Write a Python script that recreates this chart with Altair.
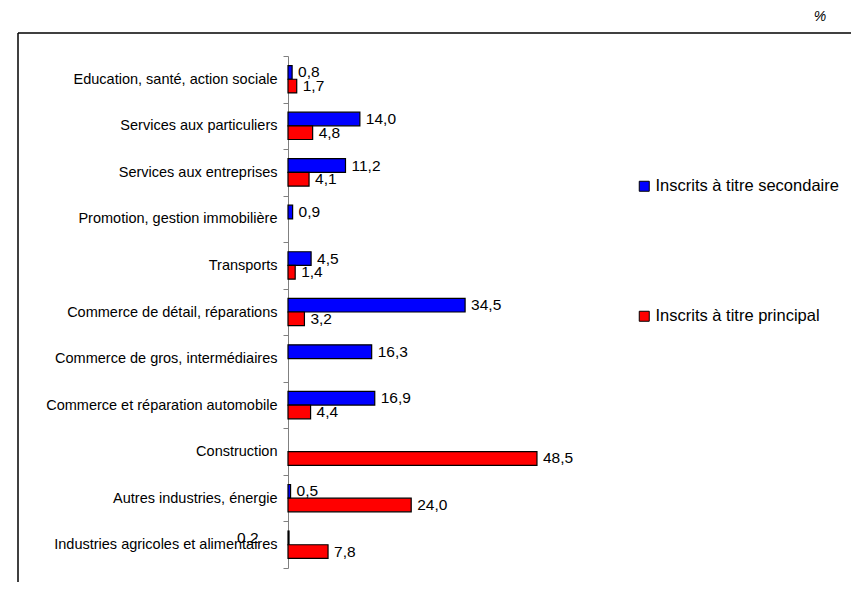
import altair as alt
import pandas as pd

categories = [
    "Education, santé, action sociale",
    "Services aux particuliers",
    "Services aux entreprises",
    "Promotion, gestion immobilière",
    "Transports",
    "Commerce de détail, réparations",
    "Commerce de gros, intermédiaires",
    "Commerce et réparation automobile",
    "Construction",
    "Autres industries, énergie",
    "Industries agricoles et alimentaires",
]
secondaire = [0.8, 14.0, 11.2, 0.9, 4.5, 34.5, 16.3, 16.9, None, 0.5, 0.2]
principal = [1.7, 4.8, 4.1, None, 1.4, 3.2, None, 4.4, 48.5, 24.0, 7.8]
series = ["Inscrits à titre secondaire", "Inscrits à titre principal"]
colors = ["#0000FF", "#FF0000"]

rows = []
for cat, s, p in zip(categories, secondaire, principal):
    if s is not None:
        rows.append({"cat": cat, "series": series[0], "value": s})
    if p is not None:
        rows.append({"cat": cat, "series": series[1], "value": p})
df = pd.DataFrame(rows)

FONT = "Liberation Sans"

y_enc = alt.Y(
    "cat:N",
    sort=categories,
    scale=alt.Scale(paddingInner=0, paddingOuter=0),
    axis=alt.Axis(
        title=None,
        tickBand="extent",
        ticks=True,
        tickSize=5,
        tickWidth=1,
        tickColor="#808080",
        domain=True,
        domainColor="#808080",
        domainWidth=1,
        labelPadding=6,
        labelFontSize=14.5,
        labelColor="black",
        labelFont=FONT,
        labelLimit=400,
    ),
)
yoff_enc = alt.YOffset(
    "series:N",
    sort=series,
    scale=alt.Scale(domain=series, paddingOuter=0.7, paddingInner=0),
)
x_enc = alt.X("value:Q", scale=alt.Scale(domain=[0, 60], nice=False), axis=None)

base = alt.Chart(df).encode(y=y_enc, yOffset=yoff_enc, x=x_enc)

bars = base.mark_bar(stroke="black", strokeWidth=1.2).encode(
    fill=alt.Fill(
        "series:N",
        sort=series,
        scale=alt.Scale(domain=series, range=colors),
        legend=alt.Legend(
            title=None,
            orient="none",
            legendX=348,
            legendY=122,
            symbolType="square",
            symbolSize=100,
            symbolStrokeColor="black",
            symbolStrokeWidth=1,
            labelFontSize=16.5,
            labelFont=FONT,
            labelColor="black",
            labelOffset=3,
            rowPadding=113,
            labelLimit=400,
        ),
    )
)

labels_main = (
    base.transform_filter("datum.value >= 0.3")
    .transform_calculate(label="replace(format(datum.value, '.1f'), '.', ',')")
    .mark_text(align="left", baseline="middle", dx=6, fontSize=15.5, font=FONT, color="black")
    .encode(text="label:N")
)
labels_small = (
    base.transform_filter("datum.value < 0.3")
    .transform_calculate(label="replace(format(datum.value, '.1f'), '.', ',')")
    .mark_text(align="left", baseline="middle", dx=-52, fontSize=15.5, font=FONT, color="black")
    .encode(text="label:N")
)

one = pd.DataFrame({"a": [0]})
frame_left = alt.Chart(one).mark_rule(color="black", strokeWidth=1.5).encode(
    x=alt.value(-270), y=alt.value(-23), y2=alt.value(530)
)
frame_top = alt.Chart(one).mark_rule(color="black", strokeWidth=1.5).encode(
    x=alt.value(-270), x2=alt.value(570), y=alt.value(-23)
)
pct = alt.Chart(one).mark_text(
    text="%", fontSize=14, fontStyle="italic", font=FONT, color="black", align="center", baseline="middle"
).encode(x=alt.value(532), y=alt.value(-39))

chart = (
    alt.layer(frame_left, frame_top, pct, bars, labels_main, labels_small)
    .properties(
        width=308,
        height=512,
        autosize=alt.AutoSizeParams(type="none"),
        padding={"left": 280, "top": 48, "right": 255, "bottom": 14},
    )
    .configure(font=FONT)
    .configure_view(stroke=None, strokeWidth=0)
)

chart.save("out.html", embed_options={"renderer": "svg", "actions": False})
